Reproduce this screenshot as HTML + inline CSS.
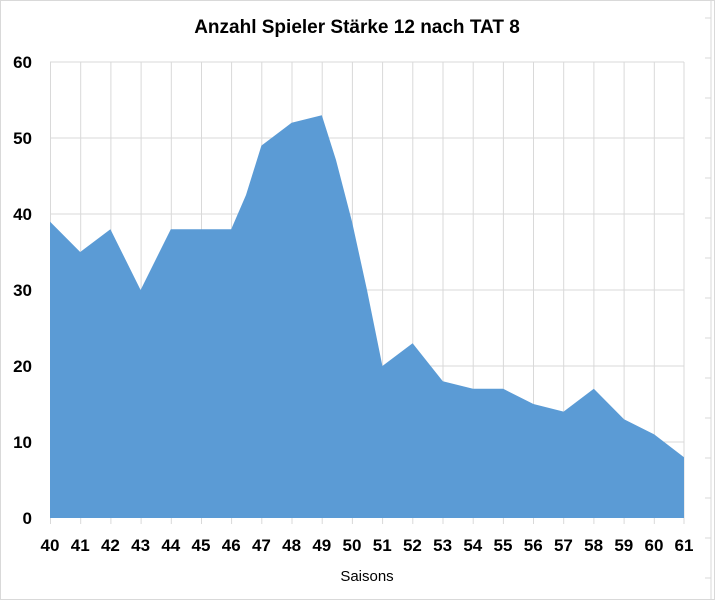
<!DOCTYPE html>
<html><head><meta charset="utf-8"><style>body{margin:0;background:#fff}svg{display:block;font-family:"Liberation Sans",sans-serif}</style></head><body>
<svg width="715" height="600" viewBox="0 0 715 600">
<rect x="0.5" y="0.5" width="714" height="599" fill="#fff" stroke="#d9d9d9"/>
<line x1="711" y1="0" x2="711" y2="600" stroke="#d9d9d9"/>
<g stroke="#d9d9d9">
<line x1="705" y1="18" x2="711" y2="18"/><line x1="705" y1="58" x2="711" y2="58"/><line x1="705" y1="98" x2="711" y2="98"/><line x1="705" y1="138" x2="711" y2="138"/><line x1="705" y1="178" x2="711" y2="178"/><line x1="705" y1="218" x2="711" y2="218"/><line x1="705" y1="258" x2="711" y2="258"/><line x1="705" y1="298" x2="711" y2="298"/><line x1="705" y1="338" x2="711" y2="338"/><line x1="705" y1="378" x2="711" y2="378"/><line x1="705" y1="418" x2="711" y2="418"/><line x1="705" y1="458" x2="711" y2="458"/><line x1="705" y1="498" x2="711" y2="498"/><line x1="705" y1="538" x2="711" y2="538"/><line x1="705" y1="578" x2="711" y2="578"/>
</g>
<text x="357" y="33" text-anchor="middle" font-size="19" font-weight="bold">Anzahl Spieler Stärke 12 nach TAT 8</text>
<g stroke="#d9d9d9" stroke-width="1">
<line x1="50" y1="62" x2="684" y2="62"/><line x1="50" y1="138" x2="684" y2="138"/><line x1="50" y1="214" x2="684" y2="214"/><line x1="50" y1="290" x2="684" y2="290"/><line x1="50" y1="366" x2="684" y2="366"/><line x1="50" y1="442" x2="684" y2="442"/>
<line x1="50.5" y1="62" x2="50.5" y2="524"/><line x1="80.7" y1="62" x2="80.7" y2="524"/><line x1="110.9" y1="62" x2="110.9" y2="524"/><line x1="141.1" y1="62" x2="141.1" y2="524"/><line x1="171.3" y1="62" x2="171.3" y2="524"/><line x1="201.5" y1="62" x2="201.5" y2="524"/><line x1="231.6" y1="62" x2="231.6" y2="524"/><line x1="261.8" y1="62" x2="261.8" y2="524"/><line x1="292" y1="62" x2="292" y2="524"/><line x1="322.2" y1="62" x2="322.2" y2="524"/><line x1="352.4" y1="62" x2="352.4" y2="524"/><line x1="382.6" y1="62" x2="382.6" y2="524"/><line x1="412.8" y1="62" x2="412.8" y2="524"/><line x1="443" y1="62" x2="443" y2="524"/><line x1="473.2" y1="62" x2="473.2" y2="524"/><line x1="503.4" y1="62" x2="503.4" y2="524"/><line x1="533.5" y1="62" x2="533.5" y2="524"/><line x1="563.7" y1="62" x2="563.7" y2="524"/><line x1="593.9" y1="62" x2="593.9" y2="524"/><line x1="624.1" y1="62" x2="624.1" y2="524"/><line x1="654.3" y1="62" x2="654.3" y2="524"/><line x1="684" y1="62" x2="684" y2="524"/>
</g>
<polygon fill="#5b9bd5" points="50,518 50,221.6 80.2,252 110.4,229.2 140.6,290 170.8,229.2 231.2,229.2 246,195 261.4,145.6 291.6,122.8 321.8,115.2 336,160 352,221.6 367,290 382.4,366 412.6,343.2 442.8,381.2 473,388.8 503.2,388.8 533.4,404 563.6,411.6 593.8,388.8 624,419.2 654.2,434.4 684,457.2 684,518"/>
<g font-size="17" font-weight="bold" text-anchor="end">
<text x="32" y="68">60</text><text x="32" y="144">50</text><text x="32" y="220">40</text><text x="32" y="296">30</text><text x="32" y="372">20</text><text x="32" y="448">10</text><text x="32" y="524">0</text>
</g>
<g font-size="17" font-weight="bold" text-anchor="middle">
<text x="50" y="551">40</text><text x="80.2" y="551">41</text><text x="110.4" y="551">42</text><text x="140.6" y="551">43</text><text x="170.8" y="551">44</text><text x="201" y="551">45</text><text x="231.2" y="551">46</text><text x="261.4" y="551">47</text><text x="291.6" y="551">48</text><text x="321.8" y="551">49</text><text x="352" y="551">50</text><text x="382.2" y="551">51</text><text x="412.4" y="551">52</text><text x="442.6" y="551">53</text><text x="472.8" y="551">54</text><text x="503" y="551">55</text><text x="533.2" y="551">56</text><text x="563.4" y="551">57</text><text x="593.6" y="551">58</text><text x="623.8" y="551">59</text><text x="654" y="551">60</text><text x="684" y="551">61</text>
</g>
<text x="367" y="581" text-anchor="middle" font-size="15">Saisons</text>
</svg>
</body></html>
